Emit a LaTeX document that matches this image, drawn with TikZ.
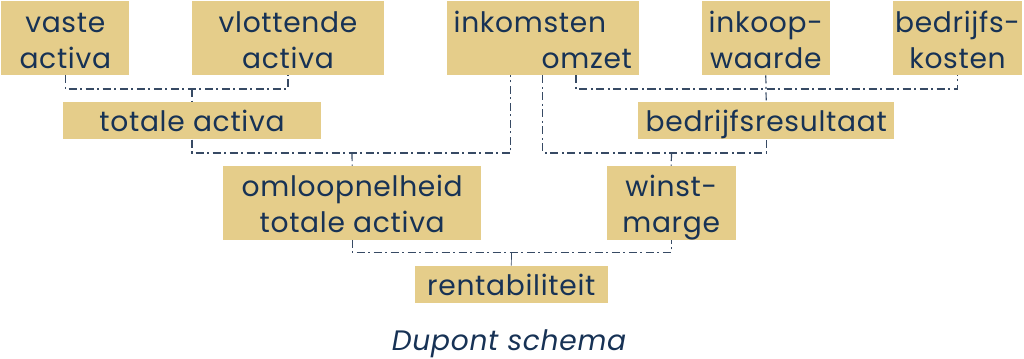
\documentclass[tikz,border=0pt]{standalone}
\usepackage{fontspec}
\setmainfont{Poppins}[LetterSpace=2.5]
\usetikzlibrary{calc}
\definecolor{boxfill}{RGB}{229,205,138}
\definecolor{navy}{RGB}{23,50,85}
\definecolor{linec}{RGB}{55,74,100}
\tikzset{
  box/.style={fill=boxfill, text=navy, inner sep=0pt, align=center,
    font=\fontsize{20}{25.6}\selectfont},
  tall/.style={minimum height=1.84cm, text height=42.3pt, text depth=0pt},
  short/.style={minimum height=0.925cm, text height=15.5pt, text depth=0pt},
  conn/.style={draw=linec, line width=0.85pt,
    dash pattern=on 5.7pt off 2.5pt on 1.4pt off 2.5pt},
  solidconn/.style={draw=linec, line width=0.5pt}
}
\begin{document}
\begin{tikzpicture}[x=0.025cm, y=-0.025cm]
\useasboundingbox (0,0) rectangle (1024,359);
% top row
\node[box, tall, minimum width=3.19cm] (vaste) at (65.3,38.3) {vaste\\activa};
\node[box, tall, minimum width=4.82cm] (vlottende) at (288,38.3) {vlottende\\activa};
\node[box, tall, minimum width=4.81cm, align=left] (inkomsten) at (542.8,38.3) {inkomsten\\\hspace*{2.2cm}omzet};
\node[box, tall, minimum width=3.21cm] (inkoop) at (765.8,38.3) {inkoop-\\waarde};
\node[box, tall, minimum width=3.21cm] (kosten) at (957.5,38.3) {bedrijfs-\\kosten};
% second row
\node[box, short, minimum width=6.43cm] (totale) at (192,120.8) {totale activa};
\node[box, short, minimum width=6.39cm] (resultaat) at (766.2,120.8) {bedrijfsresultaat};
% third row
\node[box, tall, minimum width=6.44cm] (omloop) at (352.2,202.8) {omloopnelheid\\totale activa};
\node[box, tall, minimum width=3.23cm] (winst) at (671.2,202.8) {winst-\\marge};
% bottom
\node[box, short, minimum width=4.82cm] (rent) at (511.3,284.3) {rentabiliteit};
\node[text=navy, font=\fontsize{20}{24}\selectfont\itshape, anchor=base, inner sep=0pt] (caption) at (509,350) {Dupont schema};
% junctions
\coordinate (j1) at (192,89);
\coordinate (j2) at (352,153);
\coordinate (j3) at (671.5,153);
\coordinate (j4) at (766,89);
\coordinate (j5) at (511.5,252.5);
\coordinate (inkL) at ([xshift=-0.8cm]inkomsten.south);
\coordinate (inkR) at ([xshift=0.83cm]inkomsten.south);
% connectors
\draw[conn] (vaste.south) |- (j1) -| (vlottende.south);
\draw[conn] (j1) -- (totale.north);
\draw[conn] (totale.south) |- (j2) -| (inkL);
\draw[conn] (j2) -- (omloop.north);
\draw[conn] (inkomsten.south) |- (j3) -| (resultaat.south);
\draw[conn] (j3) -- (winst.north);
\draw[conn] (inkR) |- (j4) -| (kosten.south);
\draw[conn] (inkoop.south) -- (resultaat.north);
\draw[conn] (omloop.south) |- (j5) -| (winst.south);
\draw[solidconn] (j5) -- (rent.north);
\end{tikzpicture}
\end{document}
